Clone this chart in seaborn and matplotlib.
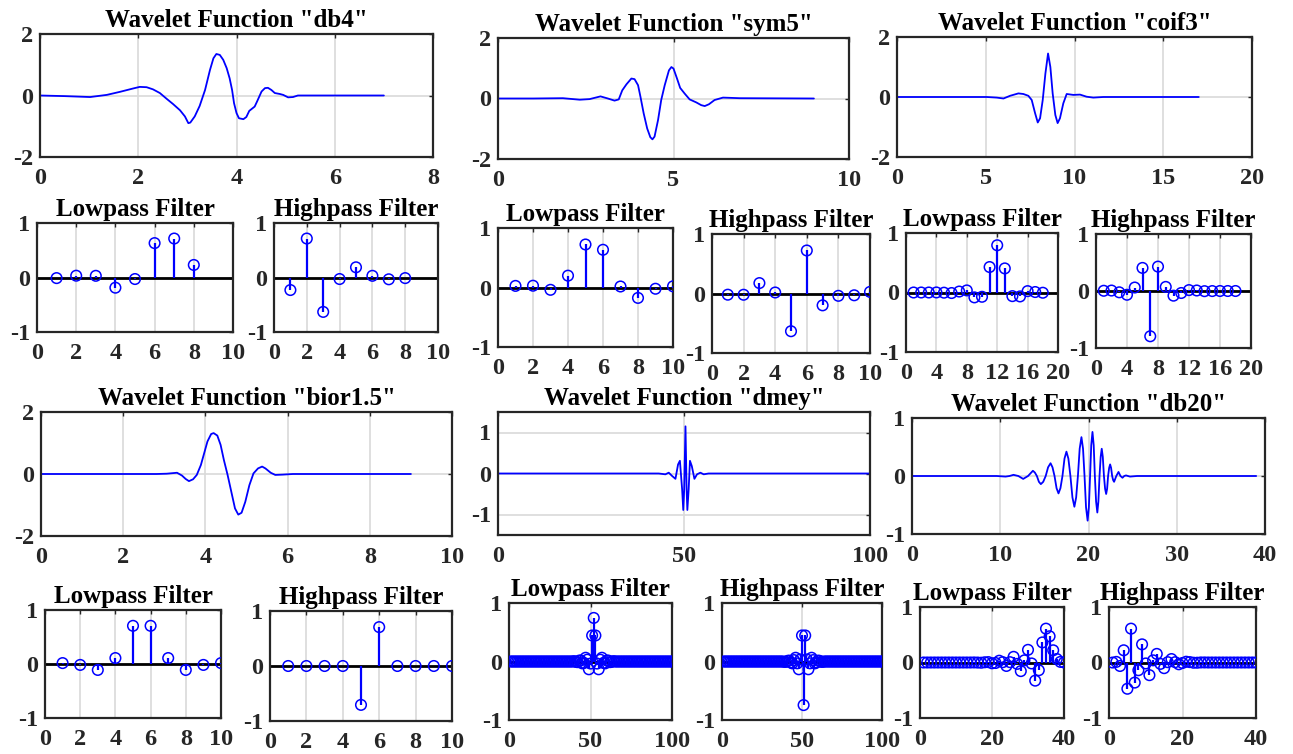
import numpy as np
import pandas as pd
import seaborn as sns
import matplotlib.pyplot as plt

# ---- wavelet functions, points ----
db4_x = [0, 0.5, 1.02, 1.36, 1.63, 1.9, 2.03, 2.17, 2.3, 2.44, 2.58, 2.71, 2.85, 2.95, 3.02, 3.06,
         3.15, 3.25, 3.36, 3.46, 3.53, 3.59, 3.66, 3.73, 3.8, 3.86, 3.91, 3.95, 4.0, 4.05, 4.14,
         4.2, 4.26, 4.37, 4.42, 4.51, 4.58, 4.64, 4.71, 4.78, 4.88, 4.95, 5.05, 5.15, 5.25, 6.0, 7.0]
db4_y = [0, -0.02, -0.05, 0.02, 0.12, 0.23, 0.28, 0.27, 0.2, 0.08, -0.11, -0.28, -0.48, -0.68, -0.9, -0.88,
         -0.68, -0.34, 0.18, 0.83, 1.21, 1.35, 1.32, 1.16, 0.89, 0.56, 0.18, -0.25, -0.57, -0.74, -0.77,
         -0.7, -0.5, -0.36, -0.19, 0.13, 0.24, 0.25, 0.18, 0.08, 0.05, 0.02, -0.06, -0.05, 0, 0, 0]

sym5_x = [0, 1.0, 1.85, 2.33, 2.61, 2.92, 3.13, 3.32, 3.44, 3.54, 3.66, 3.8, 3.89, 3.99, 4.06, 4.15,
          4.25, 4.34, 4.4, 4.46, 4.56, 4.65, 4.75, 4.87, 4.94, 5.0, 5.1, 5.19, 5.32, 5.46, 5.65,
          5.79, 5.89, 6.01, 6.17, 6.41, 6.89, 9.0]
sym5_y = [0, 0, 0.01, -0.04, -0.02, 0.07, 0, -0.07, -0.03, 0.27, 0.47, 0.66, 0.64, 0.44, 0.05, -0.49,
          -0.99, -1.28, -1.35, -1.26, -0.71, -0.05, 0.44, 0.93, 1.04, 0.99, 0.66, 0.35, 0.16, -0.03, -0.13,
          -0.22, -0.25, -0.19, -0.05, 0.03, 0.01, 0]

coif3_x = [0, 5.06, 5.62, 6.0, 6.37, 6.84, 7.12, 7.4, 7.59, 7.78, 7.93, 8.06, 8.21, 8.36, 8.51, 8.64,
           8.77, 8.92, 9.05, 9.18, 9.37, 9.56, 9.93, 10.31, 10.68, 11.06, 11.62, 17.0]
coif3_y = [0, 0, -0.02, -0.05, 0.04, 0.12, 0.1, 0.04, -0.1, -0.54, -0.85, -0.71, -0.1, 0.78, 1.45, 1.0,
           0.12, -0.6, -0.87, -0.71, -0.21, 0.1, 0.07, 0.08, 0.01, -0.02, 0, 0]

bior_x = [0, 2.81, 3.06, 3.31, 3.43, 3.52, 3.6, 3.7, 3.79, 3.89, 3.97, 4.05, 4.14, 4.2, 4.29, 4.37,
          4.45, 4.54, 4.64, 4.72, 4.8, 4.88, 4.97, 5.07, 5.17, 5.28, 5.38, 5.46, 5.59, 5.7, 5.88,
          6.13, 9.0]
bior_y = [0, 0, 0.01, 0.04, -0.05, -0.16, -0.23, -0.17, -0.03, 0.29, 0.67, 1.05, 1.29, 1.32, 1.24, 0.94,
          0.45, -0.03, -0.63, -1.11, -1.31, -1.25, -0.9, -0.36, 0.02, 0.18, 0.24, 0.18, 0.04, -0.03, -0.02,
          0, 0]

dmey_x = [0, 43.2, 45.0, 45.9, 46.8, 47.7, 48.4, 48.9, 49.5, 49.8, 50.05, 50.4, 50.7, 50.9, 51.25, 51.6,
          52.1, 52.8, 53.5, 54.4, 55.3, 56.6, 101]
dmey_y = [0, 0, -0.02, 0.02, -0.06, -0.13, 0.22, 0.31, -0.39, -0.89, -0.39, 1.15, -0.39, -0.89, -0.39, 0.31,
          0.18, -0.13, -0.02, 0.02, -0.02, 0, 0]

db20_x = [0, 9.6, 10.6, 11.05, 11.5, 12.05, 12.6, 13.15, 13.7, 13.92, 14.15, 14.38, 14.6, 14.87, 15.15,
          15.42, 15.7, 15.92, 16.15, 16.38, 16.6, 16.82, 17.05, 17.28, 17.5, 17.72, 17.95, 18.18, 18.4,
          18.6, 18.8, 19.0, 19.2, 19.38, 19.55, 19.72, 19.9, 20.04, 20.18, 20.31, 20.45, 20.59, 20.72,
          20.86, 21.0, 21.12, 21.25, 21.38, 21.5, 21.62, 21.75, 21.88, 22.0, 22.11, 22.22, 22.34, 22.45,
          22.56, 22.68, 22.79, 22.9, 23.15, 23.4, 23.62, 23.85, 24.05, 24.25, 24.7, 25.5, 39.0]
db20_y = [0, 0, -0.01, 0, 0.02, 0, -0.05, 0, 0.09, 0.06, 0, -0.1, -0.14, -0.1, 0,
          0.15, 0.22, 0.15, 0, -0.21, -0.3, -0.21, 0, 0.3, 0.42, 0.3, 0, -0.37, -0.53,
          -0.37, 0, 0.47, 0.67, 0.47, 0, -0.54, -0.77, -0.54, 0, 0.53, 0.76, 0.53, 0,
          -0.44, -0.63, -0.44, 0, 0.33, 0.47, 0.33, 0, -0.22, -0.31, -0.22, 0, 0.14, 0.2,
          0.14, 0, -0.07, -0.1, 0, 0.07, 0, -0.03, 0, 0.01, -0.01, 0, 0]

# ---- decomposition filters (lowpass / highpass) ----
db4_lo = [-0.011, 0.033, 0.031, -0.187, -0.028, 0.631, 0.715, 0.230]
db4_hi = [-0.230, 0.715, -0.631, -0.028, 0.187, 0.031, -0.033, -0.011]

sym5_lo = [0.027, 0.030, -0.039, 0.199, 0.723, 0.634, 0.017, -0.175, -0.021, 0.020]
sym5_hi = [-0.020, -0.021, 0.175, 0.017, -0.634, 0.723, -0.199, -0.039, -0.030, 0.027]

coif3_lo = [0.000, 0.000, 0.000, 0.001, -0.003, -0.009, 0.016, 0.035, -0.082,
            -0.072, 0.428, 0.794, 0.405, -0.061, -0.066, 0.023, 0.008, -0.004]
coif3_hi = [0.004, 0.008, -0.023, -0.066, 0.061, 0.405, -0.794, 0.428, 0.072,
            -0.082, -0.035, 0.016, 0.009, -0.003, -0.001, 0.000, 0.000, 0.000]

bior_lo = [0.017, -0.017, -0.110, 0.110, 0.707, 0.707, 0.110, -0.110, -0.017, 0.017]
bior_hi = [0, 0, 0, 0, -0.707, 0.707, 0, 0, 0, 0]

dmey_lo = [0, 0, 0, 0, 0, 0, 0, 0, 0, 0, 0, 0, 0,
           0, 0, 0, 0, 0, 0, 0, 0, 0, 0, 0, 0, 0,
           0, 0, 0, 0, 0, 0, 0, 0, 0, 0, 0, 0, 0,
           0.006, -0.006, -0.011, 0.015, 0.017, -0.032, -0.024, 0.064, 0.031, -0.133, -0.035, 0.445,
           0.745,
           0.445, -0.035, -0.133, 0.031, 0.064, -0.024, -0.032, 0.017, 0.015, -0.011, -0.006, 0.006,
           0, 0, 0, 0, 0, 0, 0, 0, 0, 0, 0, 0, 0,
           0, 0, 0, 0, 0, 0, 0, 0, 0, 0, 0, 0, 0,
           0, 0, 0, 0, 0, 0, 0, 0, 0, 0, 0, 0]
dmey_hi = [0, 0, 0, 0, 0, 0, 0, 0, 0, 0, 0, 0, 0,
           0, 0, 0, 0, 0, 0, 0, 0, 0, 0, 0, 0, 0,
           0, 0, 0, 0, 0, 0, 0, 0, 0, 0, 0, 0,
           -0.006, -0.006, 0.011, 0.015, -0.017, -0.032, 0.024, 0.064, -0.031, -0.133, 0.035, 0.445,
           -0.745,
           0.445, 0.035, -0.133, -0.031, 0.064, 0.024, -0.032, -0.017, 0.015, 0.011, -0.006, -0.006,
           0, 0, 0, 0, 0, 0, 0, 0, 0, 0, 0, 0, 0,
           0, 0, 0, 0, 0, 0, 0, 0, 0, 0, 0, 0, 0,
           0, 0, 0, 0, 0, 0, 0, 0, 0, 0, 0, 0, 0]

db20_lo = [0, 0, 0, 0, 0, 0, 0, 0, 0, 0, 0, 0, 0, 0, 0.001, -0.001, -0.004, 0.004, 0.007, -0.014,
           -0.009, 0.032, 0.006, -0.062, 0.006, 0.102, -0.025, -0.155, 0.039, 0.228,
           -0.017, -0.327, -0.139, 0.362, 0.610, 0.473, 0.220, 0.063, 0.011, 0.001]
db20_hi = [-0.001, 0.011, -0.063, 0.220, -0.473, 0.610, -0.362, -0.139, 0.327, -0.017,
           -0.228, 0.039, 0.155, -0.025, -0.102, 0.006, 0.062, 0.006, -0.032, -0.009,
           0.014, 0.007, -0.004, -0.004, 0.001, 0.001, 0, 0, 0, 0, 0, 0, 0, 0, 0, 0, 0, 0, 0, 0]

sns.set_style('white')
plt.rcParams['font.family'] = ['Liberation Serif', 'DejaVu Serif']
plt.rcParams['font.weight'] = 'bold'
plt.rcParams['axes.titleweight'] = 'bold'
plt.rcParams['axes.unicode_minus'] = False
plt.rcParams['axes.axisbelow'] = True

W, H = 1293, 754
fig = plt.figure(figsize=(W / 100, H / 100), dpi=100)
fig.patch.set_facecolor('white')


def new_axes(l, t, r, b):
    # pixel box of the reference -> figure fraction
    return fig.add_axes([l / W, 1 - b / H, (r - l) / W, (b - t) / H])


def finish(ax, title, xlim, xticks, ylim, yticks):
    ax.set_xlim(xlim)
    ax.set_ylim(ylim)
    ax.set_xticks(xticks)
    ax.set_yticks(yticks)
    ax.set_xlabel('')
    ax.set_ylabel('')
    ax.grid(True, color='#d9d9d9', linewidth=1.2)
    ax.tick_params(direction='in', top=True, right=True, length=3, width=1,
                   labelsize=17.5, colors='#262626')
    ax.tick_params(axis='x', pad=8)
    ax.tick_params(axis='y', pad=5)
    for s in ax.spines.values():
        s.set_color('#262626')
        s.set_linewidth(1.6)
    ax.set_title(title, fontsize=18, pad=5, color='black')


def wavelet(box, name, x, y, xlim, xticks, ylim=(-2, 2), yticks=(-2, 0, 2)):
    ax = new_axes(*box)
    sns.lineplot(x=x, y=y, ax=ax, color='blue', linewidth=1.3, sort=False, estimator=None)
    finish(ax, f'Wavelet Function "{name}"', xlim, xticks, ylim, yticks)


def stem(box, title, vals, xlim, xticks):
    ax = new_axes(*box)
    n = np.arange(1, len(vals) + 1)
    ax.axhline(0, color='black', linewidth=2, zorder=2)
    ax.vlines(n, 0, vals, color='blue', linewidth=1.6, zorder=3)
    sns.scatterplot(x=n, y=vals, ax=ax, marker='o', s=58, facecolor='none',
                    edgecolor='blue', linewidth=1.1, zorder=4)
    finish(ax, title, xlim, xticks, (-1, 1), (-1, 0, 1))


# row 1: wavelets
wavelet((40, 34, 433, 157), 'db4', db4_x, db4_y, (0, 8), range(0, 9, 2))
wavelet((498, 38, 849, 159), 'sym5', sym5_x, sym5_y, (0, 10), (0, 5, 10))
wavelet((897, 37, 1252, 157), 'coif3', coif3_x, coif3_y, (0, 20), range(0, 21, 5))

# row 2: filters
stem((37, 223, 233, 332), 'Lowpass Filter', db4_lo, (0, 10), range(0, 11, 2))
stem((274, 223, 438, 332), 'Highpass Filter', db4_hi, (0, 10), range(0, 11, 2))
stem((498, 228, 673, 347), 'Lowpass Filter', sym5_lo, (0, 10), range(0, 11, 2))
stem((712, 234, 870, 353), 'Highpass Filter', sym5_hi, (0, 10), range(0, 11, 2))
stem((906, 233, 1058, 352), 'Lowpass Filter', coif3_lo, (0, 20), range(0, 21, 4))
stem((1096, 234, 1251, 348), 'Highpass Filter', coif3_hi, (0, 20), range(0, 21, 4))

# row 3: wavelets
wavelet((41, 412, 452, 536), 'bior1.5', bior_x, bior_y, (0, 10), range(0, 11, 2))
wavelet((498, 412, 870, 535), 'dmey', dmey_x, dmey_y, (0, 100), (0, 50, 100), (-1.5, 1.5), (-1, 0, 1))
wavelet((912, 418, 1265, 534), 'db20', db20_x, db20_y, (0, 40), range(0, 41, 10), (-1, 1), (-1, 0, 1))

# row 4: filters
stem((45, 610, 221, 718), 'Lowpass Filter', bior_lo, (0, 10), range(0, 11, 2))
stem((270, 611, 452, 721), 'Highpass Filter', bior_hi, (0, 10), range(0, 11, 2))
stem((509, 603, 672, 720), 'Lowpass Filter', dmey_lo, (0, 100), (0, 50, 100))
stem((722, 603, 882, 720), 'Highpass Filter', dmey_hi, (0, 100), (0, 50, 100))
stem((920, 607, 1064, 718), 'Lowpass Filter', db20_lo, (0, 40), (0, 20, 40))
stem((1109, 607, 1256, 718), 'Highpass Filter', db20_hi, (0, 40), (0, 20, 40))

fig.savefig('out.png', dpi=100, facecolor='white')
